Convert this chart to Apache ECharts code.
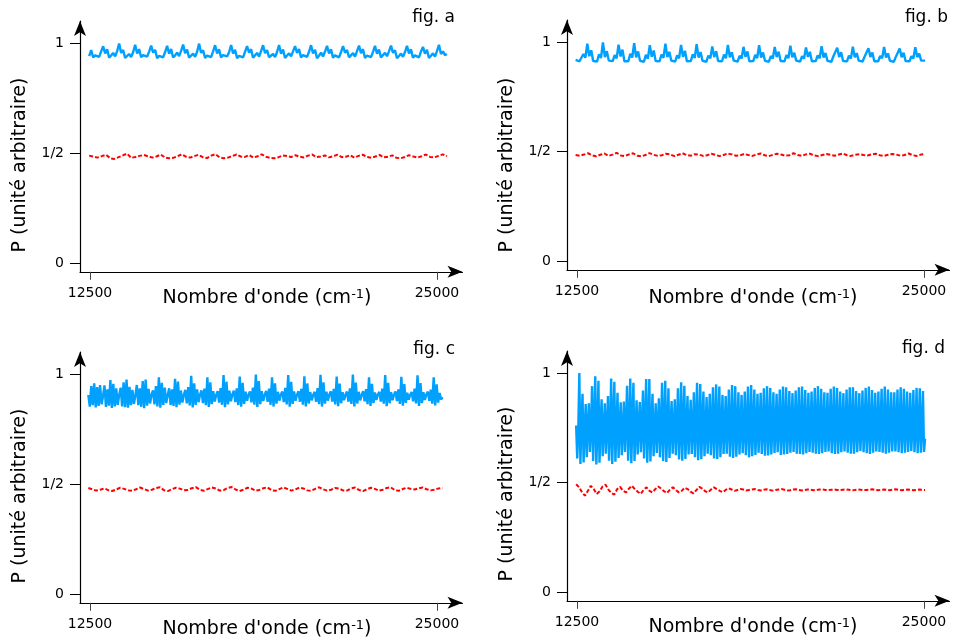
<!DOCTYPE html>
<html><head><meta charset="utf-8">
<script src="https://cdn.jsdelivr.net/npm/echarts@6/dist/echarts.min.js"></script>
<style>html,body{margin:0;padding:0;background:#fff}#c{width:959px;height:641px}</style>
</head><body><div id="c"></div>
<script>
// ---- data ----
const xTicks = [12500, 25000];
const xTickLabels = ['12500', '25000'];
const yTicks = [0, 0.5, 1];
const yTickLabels = ['0', '1/2', '1'];
const panelLabels = ['fig. a', 'fig. b', 'fig. c', 'fig. d'];
const xAxisTitle = "Nombre d'onde (cm{sup|-1})";
const yAxisTitle = 'P (unité arbitraire)';

// wavenumber span covered by each trace (first and last sample)
const spanA = [12470, 25360];
const spanB = [12450, 25040];
const spanC = [12440, 25200];
const spanD = [12470, 25040];

const blueA = [
0.940,0.968,0.934,0.944,0.952,0.937,0.962,0.985,
0.953,0.971,0.933,0.943,0.955,0.939,0.963,0.998,
0.955,0.968,0.932,0.940,0.950,0.936,0.958,0.992,
0.952,0.972,0.935,0.945,0.953,0.938,0.961,0.988,
0.956,0.969,0.931,0.942,0.951,0.935,0.959,0.987,
0.951,0.973,0.934,0.944,0.956,0.940,0.964,0.993,
0.954,0.970,0.933,0.941,0.952,0.937,0.960,0.997,
0.955,0.967,0.932,0.943,0.950,0.936,0.962,0.990,
0.953,0.971,0.934,0.945,0.954,0.939,0.958,0.991,
0.952,0.969,0.931,0.942,0.951,0.935,0.961,0.986,
0.956,0.972,0.933,0.944,0.955,0.938,0.963,0.990,
0.954,0.968,0.935,0.941,0.950,0.936,0.959,0.991,
0.951,0.970,0.932,0.943,0.953,0.940,0.962,0.986,
0.955,0.973,0.934,0.945,0.952,0.937,0.960,0.990,
0.953,0.969,0.931,0.942,0.956,0.939,0.961,0.987,
0.952,0.971,0.933,0.944,0.951,0.935,0.958,0.986,
0.956,0.968,0.935,0.940,0.954,0.938,0.963,0.988,
0.954,0.972,0.932,0.943,0.950,0.936,0.960,0.987,
0.951,0.970,0.934,0.945,0.955,0.940,0.962,0.988,
0.955,0.967,0.931,0.941,0.952,0.937,0.959,0.987,
0.953,0.971,0.933,0.944,0.951,0.935,0.961,0.982,
0.952,0.969,0.932,0.942,0.953,0.938,0.963,0.992,
0.950,0.962,0.945,0.950];

const redA = [
0.488,0.484,0.479,0.486,0.492,0.476,0.473,0.481,0.489,0.497,0.478,0.482,0.487,0.491,0.485,0.479,
0.484,0.493,0.480,0.476,0.478,0.485,0.494,0.483,0.479,0.486,0.492,0.481,0.477,0.488,0.495,0.480,
0.476,0.479,0.486,0.493,0.484,0.482,0.491,0.479,0.485,0.494,0.483,0.478,0.476,0.481,0.489,0.486,
0.482,0.490,0.483,0.480,0.488,0.493,0.481,0.484,0.489,0.480,0.486,0.492,0.481,0.483,0.490,0.479,
0.487,0.492,0.482,0.478,0.484,0.491,0.480,0.483,0.489,0.478,0.476,0.482,0.490,0.484,0.479,0.485,
0.493,0.482,0.480,0.487,0.494,0.486];

const blueB = [
0.918,0.925,0.912,0.921,0.945,0.928,0.992,0.935,
0.962,0.913,0.919,0.911,0.944,0.927,0.998,0.931,
0.958,0.915,0.920,0.913,0.940,0.925,0.988,0.934,
0.965,0.912,0.917,0.912,0.946,0.929,0.995,0.930,
0.957,0.914,0.921,0.910,0.941,0.924,0.985,0.933,
0.961,0.913,0.918,0.912,0.943,0.928,0.992,0.931,
0.955,0.915,0.919,0.911,0.939,0.926,0.987,0.932,
0.960,0.912,0.920,0.913,0.944,0.927,0.990,0.929,
0.954,0.914,0.917,0.910,0.938,0.925,0.980,0.931,
0.958,0.913,0.919,0.912,0.942,0.926,0.987,0.930,
0.953,0.915,0.918,0.911,0.937,0.924,0.978,0.932,
0.957,0.912,0.920,0.913,0.941,0.927,0.985,0.929,
0.952,0.914,0.918,0.910,0.936,0.925,0.977,0.931,
0.956,0.913,0.919,0.912,0.940,0.926,0.983,0.930,
0.951,0.915,0.917,0.911,0.935,0.924,0.975,0.932,
0.955,0.912,0.920,0.913,0.939,0.926,0.981,0.929,
0.950,0.914,0.918,0.910,0.934,0.925,0.974,0.931,
0.953,0.913,0.919,0.912,0.938,0.924,0.979,0.930,
0.949,0.915,0.917,0.911,0.933,0.925,0.972,0.931,
0.952,0.912,0.918,0.912,0.936,0.926,0.977,0.929,
0.948,0.914,0.917,0.910,0.932,0.924,0.970,0.930,
0.951,0.913,0.918,0.912,0.935,0.925,0.976,0.931,
0.947,0.915,0.914,0.915];

const redB = [
0.484,0.481,0.486,0.492,0.483,0.478,0.485,0.491,0.480,0.486,0.494,0.482,0.479,0.487,0.492,0.481,
0.478,0.484,0.493,0.485,0.480,0.483,0.490,0.487,0.479,0.485,0.492,0.484,0.481,0.488,0.486,0.480,
0.483,0.490,0.485,0.479,0.484,0.491,0.487,0.481,0.482,0.489,0.484,0.480,0.486,0.491,0.483,0.479,
0.485,0.490,0.486,0.481,0.483,0.492,0.484,0.480,0.487,0.490,0.482,0.479,0.484,0.489,0.485,0.481,
0.486,0.491,0.483,0.480,0.485,0.488,0.484,0.482,0.487,0.490,0.483,0.480,0.485,0.489,0.486,0.481,
0.484,0.491,0.483,0.480,0.486,0.489];

const blueC = [
0.905,0.852,0.945,0.858,0.958,0.848,0.940,0.855,0.950,0.862,0.900,
0.948,0.850,0.930,0.856,0.972,0.846,0.955,0.853,0.935,0.860,0.905,
0.938,0.853,0.962,0.849,0.975,0.847,0.942,0.858,0.928,0.864,0.902,
0.950,0.858,0.935,0.851,0.968,0.845,0.975,0.856,0.932,0.866,0.906,
0.926,0.862,0.945,0.853,0.985,0.847,0.960,0.859,0.938,0.868,0.903,
0.935,0.860,0.930,0.855,0.978,0.849,0.966,0.861,0.925,0.870,0.904,
0.928,0.866,0.940,0.857,0.992,0.848,0.958,0.860,0.930,0.872,0.906,
0.925,0.868,0.934,0.858,0.985,0.850,0.962,0.863,0.922,0.875,0.905,
0.922,0.870,0.936,0.860,0.995,0.849,0.965,0.862,0.924,0.876,0.907,
0.924,0.872,0.935,0.859,0.988,0.851,0.960,0.864,0.920,0.878,0.906,
0.921,0.871,0.938,0.861,0.997,0.850,0.968,0.863,0.922,0.877,0.905,
0.923,0.873,0.934,0.860,0.985,0.852,0.958,0.865,0.919,0.879,0.907,
0.920,0.872,0.937,0.862,0.995,0.851,0.964,0.864,0.921,0.878,0.906,
0.922,0.874,0.933,0.861,0.990,0.853,0.957,0.866,0.918,0.880,0.905,
0.919,0.873,0.936,0.863,0.996,0.852,0.962,0.865,0.920,0.879,0.907,
0.921,0.875,0.932,0.862,0.988,0.854,0.956,0.867,0.917,0.881,0.906,
0.920,0.874,0.935,0.864,0.997,0.853,0.961,0.866,0.919,0.880,0.905,
0.922,0.876,0.931,0.863,0.985,0.855,0.955,0.868,0.916,0.882,0.907,
0.919,0.875,0.934,0.865,0.995,0.854,0.960,0.867,0.918,0.881,0.906,
0.921,0.877,0.930,0.864,0.987,0.856,0.954,0.869,0.915,0.883,0.905,
0.918,0.876,0.933,0.866,0.994,0.855,0.959,0.868,0.917,0.882,0.907,
0.920,0.878,0.929,0.865,0.985,0.857,0.953,0.870,0.914,0.884,0.895];

const redC = [
0.482,0.476,0.470,0.474,0.480,0.472,0.468,0.475,0.483,0.478,0.471,0.469,0.476,0.484,0.477,0.470,
0.474,0.482,0.485,0.472,0.468,0.476,0.483,0.479,0.471,0.473,0.481,0.486,0.474,0.469,0.477,0.484,
0.480,0.470,0.472,0.482,0.486,0.475,0.468,0.474,0.483,0.479,0.470,0.473,0.481,0.485,0.472,0.469,
0.477,0.484,0.478,0.470,0.475,0.483,0.480,0.471,0.469,0.478,0.485,0.476,0.470,0.474,0.482,0.479,
0.471,0.470,0.480,0.484,0.473,0.468,0.476,0.483,0.478,0.470,0.474,0.482,0.485,0.472,0.469,0.477,
0.483,0.478,0.475,0.480,0.484,0.476,0.471,0.474,0.480,0.482];

const blueD = [
0.760,0.610,0.740, 1.000,0.585,0.770, 0.905,0.592,0.735, 0.858,0.615,0.760, 0.862,0.640,0.742,
0.940,0.598,0.768, 0.985,0.582,0.738, 0.965,0.590,0.762, 0.880,0.620,0.744, 0.862,0.632,0.758,
0.895,0.600,0.740, 0.975,0.585,0.772, 0.960,0.595,0.745, 0.910,0.612,0.760, 0.866,0.625,0.738,
0.870,0.640,0.766, 0.942,0.600,0.742, 0.975,0.588,0.770, 0.955,0.598,0.740, 0.875,0.628,0.762,
0.868,0.638,0.745, 0.920,0.610,0.768, 0.972,0.590,0.738, 0.972,0.596,0.764, 0.905,0.620,0.742,
0.862,0.635,0.760, 0.885,0.615,0.744, 0.955,0.598,0.766, 0.965,0.594,0.740, 0.930,0.612,0.758,
0.872,0.632,0.742, 0.880,0.625,0.762, 0.930,0.605,0.738, 0.958,0.600,0.766, 0.942,0.608,0.744,
0.895,0.628,0.758, 0.878,0.630,0.740, 0.912,0.615,0.762, 0.955,0.602,0.742, 0.950,0.606,0.760,
0.915,0.620,0.738, 0.890,0.632,0.758, 0.905,0.625,0.744, 0.935,0.610,0.762, 0.948,0.608,0.740,
0.938,0.615,0.756, 0.900,0.630,0.742, 0.895,0.632,0.760, 0.925,0.618,0.738, 0.945,0.612,0.755,
0.940,0.618,0.742, 0.912,0.628,0.758, 0.900,0.634,0.740, 0.915,0.625,0.756, 0.938,0.615,0.744,
0.945,0.620,0.754, 0.925,0.626,0.740, 0.905,0.636,0.758, 0.910,0.630,0.742, 0.930,0.622,0.752,
0.940,0.624,0.740, 0.932,0.628,0.756, 0.912,0.635,0.742, 0.905,0.638,0.754, 0.925,0.626,0.740,
0.938,0.628,0.752, 0.935,0.630,0.742, 0.918,0.636,0.756, 0.908,0.640,0.740, 0.920,0.632,0.750,
0.935,0.630,0.742, 0.938,0.628,0.754, 0.922,0.634,0.740, 0.910,0.640,0.752, 0.915,0.636,0.744,
0.932,0.632,0.750, 0.940,0.630,0.742, 0.928,0.634,0.754, 0.912,0.640,0.740, 0.910,0.642,0.748,
0.928,0.634,0.744, 0.938,0.630,0.752, 0.932,0.632,0.742, 0.915,0.638,0.750, 0.908,0.642,0.744,
0.925,0.636,0.750, 0.935,0.632,0.742, 0.935,0.632,0.752, 0.918,0.638,0.740, 0.908,0.644,0.748,
0.920,0.638,0.744, 0.932,0.634,0.750, 0.938,0.630,0.742, 0.922,0.636,0.752, 0.910,0.642,0.740,
0.915,0.640,0.750, 0.928,0.636,0.742, 0.938,0.632,0.750, 0.925,0.636,0.744, 0.912,0.642,0.748,
0.912,0.642,0.742, 0.925,0.638,0.750, 0.935,0.634,0.744, 0.928,0.636,0.752, 0.915,0.640,0.742,
0.910,0.644,0.750, 0.922,0.638,0.742, 0.932,0.634,0.752, 0.930,0.636,0.744, 0.918,0.640,0.700];

const redD = [
0.492,0.478,0.455,0.440,0.462,0.485,0.470,0.448,0.460,0.482,0.490,0.468,0.452,0.445,0.470,0.480,0.462,0.455,0.472,0.485,
0.470,0.458,0.448,0.466,0.478,0.462,0.455,0.470,0.482,0.472,0.460,0.452,0.468,0.478,0.466,0.455,0.462,0.476,0.470,0.458,
0.450,0.465,0.480,0.472,0.460,0.455,0.468,0.478,0.470,0.462,0.456,0.466,0.474,0.468,0.462,0.466,0.470,0.468,0.464,0.466,
0.468,0.470,0.466,0.464,0.467,0.469,0.466,0.463,0.466,0.468,0.470,0.467,0.464,0.465,0.468,0.469,0.466,0.464,0.466,0.468,
0.467,0.465,0.466,0.468,0.469,0.466,0.465,0.467,0.468,0.466,0.465,0.467,0.469,0.467,0.465,0.466,0.468,0.467,0.465,0.466,
0.468,0.469,0.466,0.465,0.467,0.468,0.466,0.465,0.467,0.469,0.467,0.465,0.466,0.468,0.467,0.465,0.466,0.468,0.467,0.466];

// ---- build ----
function pairs(vals, span) {
  const n = vals.length;
  return vals.map((v, i) => [span[0] + (span[1] - span[0]) * i / (n - 1), v]);
}
const FONT = 'DejaVu Sans';
const panels = [
  {grid: {left: 80, top: 21, width: 382.5, height: 250.8}, blue: blueA, red: redA, span: spanA},
  {grid: {left: 567, top: 20.1, width: 382.5, height: 249.7}, blue: blueB, red: redB, span: spanB},
  {grid: {left: 80, top: 352, width: 382.5, height: 250.8}, blue: blueC, red: redC, span: spanC},
  {grid: {left: 567, top: 351.1, width: 382.5, height: 249.7}, blue: blueD, red: redD, span: spanD}
];
const grids = [], xAxes = [], yAxes = [], series = [];
panels.forEach((p, k) => {
  grids.push(p.grid);
  xAxes.push({
    type: 'value', gridIndex: k, min: 12140, max: 25920,
    axisLine: {onZero: false, symbol: ['none', 'arrow'], symbolSize: [9, 15], lineStyle: {color: '#000', width: 1.2}},
    axisTick: {customValues: xTicks, length: 8, lineStyle: {color: '#444'}},
    axisLabel: {customValues: xTicks, margin: 15, color: '#000', fontSize: 14, fontFamily: FONT,
      formatter: v => xTickLabels[xTicks.indexOf(v)]},
    splitLine: {show: false}
  });
  yAxes.push({
    type: 'value', gridIndex: k, min: -0.04, max: 1.1,
    axisLine: {onZero: false, symbol: ['none', 'arrow'], symbolSize: [9, 15], lineStyle: {color: '#000', width: 1.2}},
    axisTick: {customValues: yTicks, length: 10, lineStyle: {color: '#000'}},
    axisLabel: {customValues: yTicks, margin: 16, color: '#000', fontSize: 14, fontFamily: FONT,
      formatter: v => yTickLabels[yTicks.indexOf(v)]},
    splitLine: {show: false}
  });
  series.push({
    type: 'line', xAxisIndex: k, yAxisIndex: k, data: pairs(p.blue, p.span),
    showSymbol: false, symbol: 'none', lineStyle: {color: '#00A0FF', width: 2.4}, z: 3
  });
  series.push({
    type: 'line', xAxisIndex: k, yAxisIndex: k, data: pairs(p.red, p.span),
    showSymbol: false, symbol: 'none', lineStyle: {color: '#FF0000', width: 2, type: [4, 2]}, z: 4
  });
});

const textPos = [
  {nx: 267, ny: 298, px: 20, py: 165, fx: 455, fy: 18},
  {nx: 753, ny: 298, px: 507, py: 165, fx: 948, fy: 18},
  {nx: 267, ny: 629, px: 20, py: 496, fx: 455, fy: 350},
  {nx: 753, ny: 627, px: 507, py: 494, fx: 945, fy: 349}
];
const graphic = [];
textPos.forEach((t, k) => {
  graphic.push({type: 'text', x: t.nx, y: t.ny, style: {
    text: xAxisTitle, fill: '#000', font: '19px "' + FONT + '"', align: 'center', verticalAlign: 'middle',
    rich: {sup: {fontSize: 13, fontFamily: FONT, verticalAlign: 'top', fill: '#000'}}
  }});
  graphic.push({type: 'text', x: t.px, y: t.py, rotation: Math.PI / 2, style: {
    text: yAxisTitle, fill: '#000', font: '19px "' + FONT + '"', align: 'center', verticalAlign: 'middle'
  }});
  graphic.push({type: 'text', x: t.fx, y: t.fy, style: {
    text: panelLabels[k], fill: '#000', font: '17px "' + FONT + '"', align: 'right', verticalAlign: 'middle'
  }});
});

const chart = echarts.init(document.getElementById('c'), null, {renderer: 'canvas'});
chart.setOption({
  animation: false,
  backgroundColor: '#fff',
  textStyle: {fontFamily: FONT},
  grid: grids, xAxis: xAxes, yAxis: yAxes, series: series, graphic: graphic
});
</script>
</body></html>
